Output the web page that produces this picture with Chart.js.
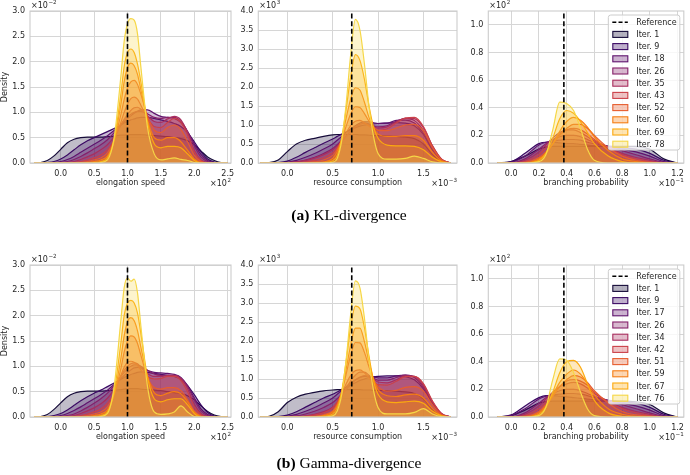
<!DOCTYPE html>
<html><head><meta charset="utf-8">
<script src="https://cdn.jsdelivr.net/npm/chart.js@4.4.1/dist/chart.umd.min.js"></script>
<style>
html,body{margin:0;padding:0;background:#fff}
#wrap{position:relative;width:690px;height:475px;overflow:hidden;background:#fff}
canvas{position:absolute;left:0;top:0}
.cap{position:absolute;left:0;width:698px;text-align:center;font-family:"Liberation Serif",serif;font-size:15.5px;line-height:18px;color:#000}
</style></head><body>
<div id="wrap">
<canvas id="c0" width="690" height="475"></canvas>
<canvas id="c1" width="690" height="475"></canvas>
<canvas id="c2" width="690" height="475"></canvas>
<canvas id="c3" width="690" height="475"></canvas>
<canvas id="c4" width="690" height="475"></canvas>
<canvas id="c5" width="690" height="475"></canvas>
<div class="cap" style="top:206px"><b>(a)</b> KL-divergence</div>
<div class="cap" style="top:454px"><b>(b)</b> Gamma-divergence</div>
</div>
<script>
// ---------- data ----------
const itersKL = [1, 9, 18, 26, 35, 43, 52, 60, 69, 78];
const itersGamma = [1, 9, 17, 26, 34, 42, 51, 59, 67, 76];
const refElong = 1.0, refResource = 0.71, refBranch = 0.38;

const xElong = [-0.4,-0.3,-0.2,-0.1,0.0,0.1,0.2,0.3,0.4,0.5,0.6,0.7,0.8,0.9,0.95,1.0,1.05,1.1,1.15,1.2,1.3,1.4,1.5,1.6,1.7,1.8,1.9,2.0,2.1,2.2,2.3,2.4,2.5];
const xResource = [-0.3,-0.2,-0.1,0.0,0.1,0.2,0.3,0.4,0.5,0.55,0.6,0.65,0.7,0.75,0.8,0.85,0.9,0.95,1.0,1.1,1.2,1.3,1.4,1.5,1.6,1.7,1.8];
const xBranch = [-0.1,0.0,0.1,0.2,0.25,0.3,0.35,0.4,0.45,0.5,0.55,0.6,0.7,0.8,0.9,1.0,1.1,1.2];

// KL-divergence, elongation speed (x10^-2)
const klElong = [
 [0,0.01,0.05,0.14,0.27,0.40,0.47,0.50,0.51,0.51,0.51,0.52,0.53,0.55,0.55,0.56,0.56,0.56,0.56,0.56,0.55,0.54,0.53,0.52,0.50,0.48,0.44,0.36,0.24,0.12,0.05,0.01,0],
 [0,0,0.01,0.03,0.08,0.16,0.26,0.36,0.44,0.50,0.56,0.62,0.68,0.75,0.79,0.82,0.85,0.87,0.89,0.90,0.90,0.88,0.85,0.82,0.78,0.72,0.6,0.42,0.22,0.08,0.02,0,0],
 [0,0,0,0.01,0.03,0.07,0.13,0.21,0.29,0.37,0.45,0.54,0.64,0.75,0.81,0.87,0.93,0.98,1.02,1.05,1.05,0.98,0.92,0.9,0.88,0.8,0.62,0.38,0.17,0.05,0.01,0,0],
 [0,0,0,0,0.01,0.03,0.07,0.13,0.2,0.28,0.36,0.46,0.6,0.76,0.84,0.91,0.96,1.0,1.02,1.02,0.97,0.9,0.88,0.9,0.9,0.82,0.62,0.34,0.12,0.03,0,0,0],
 [0,0,0,0,0,0.01,0.03,0.07,0.12,0.18,0.26,0.36,0.52,0.74,0.86,0.96,1.04,1.09,1.1,1.06,0.93,0.82,0.8,0.87,0.92,0.85,0.6,0.25,0.06,0.01,0,0,0],
 [0,0,0,0,0,0,0.01,0.03,0.06,0.1,0.16,0.26,0.46,0.8,1.0,1.16,1.27,1.3,1.26,1.14,0.88,0.72,0.7,0.8,0.88,0.8,0.55,0.22,0.05,0,0,0,0],
 [0,0,0,0,0,0,0,0.01,0.03,0.06,0.1,0.2,0.45,0.95,1.25,1.48,1.6,1.63,1.55,1.36,0.92,0.65,0.6,0.7,0.75,0.66,0.42,0.15,0.03,0,0,0,0],
 [0,0,0,0,0,0,0,0,0.01,0.03,0.06,0.14,0.45,1.15,1.6,1.88,1.97,1.92,1.75,1.45,0.85,0.5,0.45,0.5,0.5,0.42,0.25,0.08,0.01,0,0,0,0],
 [0,0,0,0,0,0,0,0,0,0.01,0.03,0.1,0.45,1.35,1.9,2.18,2.25,2.18,1.95,1.6,0.8,0.38,0.3,0.33,0.33,0.3,0.18,0.05,0,0,0,0,0],
 [0,0,0,0,0,0,0,0,0,0,0.01,0.06,0.5,1.7,2.4,2.75,2.85,2.82,2.55,1.9,0.7,0.18,0.06,0.08,0.1,0.07,0.05,0.01,0,0,0,0,0]
];
// KL-divergence, resource consumption (x10^3)
const klResource = [
 [0,0.01,0.08,0.3,0.5,0.6,0.65,0.7,0.74,0.75,0.75,0.75,0.75,0.75,0.74,0.74,0.73,0.72,0.72,0.71,0.7,0.68,0.64,0.5,0.22,0.05,0],
 [0,0,0.01,0.05,0.15,0.28,0.4,0.52,0.63,0.7,0.76,0.82,0.88,0.93,0.97,1.0,1.02,1.03,1.04,1.05,1.06,1.05,0.98,0.75,0.35,0.08,0],
 [0,0,0,0.02,0.07,0.15,0.25,0.37,0.5,0.6,0.7,0.8,0.9,0.98,1.05,1.08,1.08,1.06,1.04,1.05,1.12,1.13,1.05,0.78,0.35,0.07,0],
 [0,0,0,0.01,0.03,0.08,0.15,0.25,0.38,0.48,0.6,0.72,0.85,0.95,1.02,1.05,1.03,0.98,0.95,0.98,1.1,1.17,1.12,0.85,0.38,0.08,0],
 [0,0,0,0.01,0.03,0.07,0.13,0.22,0.35,0.45,0.57,0.7,0.83,0.95,1.02,1.04,1.0,0.95,0.92,0.95,1.08,1.18,1.17,0.93,0.45,0.1,0],
 [0,0,0,0,0.01,0.03,0.07,0.14,0.27,0.4,0.58,0.8,0.99,1.1,1.12,1.06,0.97,0.9,0.86,0.9,1.05,1.18,1.2,0.96,0.45,0.1,0],
 [0,0,0,0,0,0.01,0.03,0.08,0.2,0.36,0.62,0.98,1.3,1.48,1.46,1.3,1.1,0.95,0.86,0.85,0.92,1.0,1.02,0.85,0.4,0.08,0],
 [0,0,0,0,0,0,0.01,0.03,0.12,0.3,0.65,1.2,1.7,1.98,1.92,1.6,1.2,0.9,0.76,0.7,0.7,0.72,0.72,0.6,0.28,0.05,0],
 [0,0,0,0,0,0,0,0.01,0.06,0.2,0.65,1.45,2.3,2.85,2.7,2.2,1.5,0.95,0.65,0.47,0.45,0.45,0.44,0.35,0.15,0.03,0],
 [0,0,0,0,0,0,0,0,0.02,0.12,0.6,1.6,2.9,3.78,3.5,2.6,1.5,0.7,0.25,0.1,0.1,0.12,0.18,0.12,0.03,0,0]
];
// KL-divergence, branching probability (x10^2)
const klBranch = [
 [0,0.01,0.05,0.1,0.115,0.12,0.12,0.12,0.12,0.12,0.12,0.12,0.12,0.12,0.12,0.1,0.03,0],
 [0,0.01,0.07,0.14,0.15,0.15,0.145,0.14,0.14,0.135,0.13,0.125,0.12,0.11,0.1,0.07,0.02,0],
 [0,0.005,0.05,0.13,0.15,0.16,0.165,0.17,0.17,0.165,0.15,0.14,0.12,0.1,0.08,0.05,0.01,0],
 [0,0,0.03,0.1,0.14,0.17,0.19,0.2,0.2,0.19,0.17,0.15,0.12,0.09,0.06,0.03,0.005,0],
 [0,0,0.02,0.08,0.13,0.18,0.22,0.24,0.24,0.22,0.19,0.16,0.11,0.07,0.04,0.02,0,0],
 [0,0,0.01,0.06,0.11,0.16,0.21,0.24,0.25,0.24,0.21,0.17,0.11,0.06,0.03,0.01,0,0],
 [0,0,0.005,0.04,0.08,0.14,0.2,0.25,0.28,0.28,0.25,0.2,0.11,0.05,0.02,0.005,0,0],
 [0,0,0,0.03,0.07,0.14,0.23,0.3,0.33,0.31,0.26,0.19,0.09,0.03,0.01,0,0,0],
 [0,0,0,0.02,0.07,0.18,0.32,0.38,0.36,0.3,0.22,0.14,0.05,0.01,0,0,0,0],
 [0,0,0,0.01,0.06,0.24,0.44,0.43,0.38,0.25,0.1,0.02,0,0,0,0,0,0]
];
// Gamma-divergence, elongation speed
const gaElong = [
 [0,0.01,0.05,0.15,0.28,0.40,0.47,0.50,0.51,0.51,0.51,0.52,0.53,0.54,0.55,0.56,0.56,0.56,0.56,0.55,0.54,0.53,0.52,0.5,0.48,0.46,0.42,0.34,0.22,0.11,0.04,0.01,0],
 [0,0,0.01,0.03,0.07,0.14,0.23,0.32,0.4,0.47,0.53,0.6,0.67,0.74,0.78,0.81,0.84,0.86,0.88,0.89,0.88,0.86,0.84,0.82,0.8,0.74,0.62,0.44,0.24,0.09,0.02,0,0],
 [0,0,0,0.01,0.03,0.07,0.13,0.2,0.28,0.36,0.44,0.53,0.64,0.76,0.82,0.88,0.93,0.97,0.98,0.97,0.92,0.88,0.87,0.86,0.84,0.78,0.62,0.38,0.16,0.05,0.01,0,0],
 [0,0,0,0,0.01,0.03,0.06,0.12,0.19,0.27,0.36,0.47,0.62,0.8,0.88,0.95,1.0,1.03,1.03,1.0,0.92,0.85,0.82,0.82,0.82,0.76,0.6,0.34,0.12,0.03,0,0,0],
 [0,0,0,0,0,0.01,0.03,0.07,0.12,0.18,0.26,0.37,0.55,0.8,0.92,1.0,1.05,1.07,1.05,0.98,0.86,0.8,0.8,0.82,0.82,0.76,0.56,0.26,0.07,0.01,0,0,0],
 [0,0,0,0,0,0,0.01,0.03,0.06,0.1,0.16,0.27,0.48,0.82,0.98,1.08,1.1,1.08,1.02,0.93,0.8,0.75,0.76,0.8,0.8,0.72,0.5,0.2,0.05,0,0,0,0],
 [0,0,0,0,0,0,0,0.01,0.03,0.06,0.1,0.2,0.45,0.95,1.28,1.5,1.6,1.58,1.45,1.22,0.78,0.58,0.55,0.58,0.58,0.52,0.34,0.12,0.02,0,0,0,0],
 [0,0,0,0,0,0,0,0,0.01,0.03,0.06,0.14,0.45,1.15,1.6,1.88,1.96,1.9,1.7,1.38,0.8,0.48,0.42,0.47,0.5,0.46,0.3,0.1,0.01,0,0,0,0],
 [0,0,0,0,0,0,0,0,0,0.01,0.03,0.1,0.5,1.45,2.0,2.25,2.3,2.25,2.05,1.65,0.78,0.36,0.3,0.34,0.36,0.36,0.24,0.07,0,0,0,0,0],
 [0,0,0,0,0,0,0,0,0,0,0.01,0.07,0.6,1.9,2.55,2.74,2.68,2.72,2.45,1.8,0.6,0.1,0.05,0.06,0.1,0.22,0.1,0.01,0,0,0,0,0]
];
// Gamma-divergence, resource consumption
const gaResource = [
 [0,0.02,0.14,0.38,0.52,0.6,0.65,0.69,0.71,0.72,0.72,0.72,0.72,0.72,0.72,0.71,0.71,0.7,0.7,0.69,0.68,0.66,0.62,0.48,0.2,0.04,0],
 [0,0,0.01,0.05,0.14,0.26,0.38,0.5,0.6,0.66,0.72,0.78,0.84,0.9,0.96,1.0,1.04,1.06,1.07,1.08,1.08,1.06,0.98,0.74,0.34,0.07,0],
 [0,0,0,0.02,0.07,0.15,0.25,0.37,0.5,0.6,0.7,0.8,0.9,0.98,1.04,1.07,1.07,1.05,1.03,1.03,1.08,1.1,1.04,0.78,0.35,0.07,0],
 [0,0,0,0.01,0.03,0.08,0.15,0.25,0.38,0.48,0.6,0.73,0.86,0.97,1.05,1.09,1.07,1.02,0.97,0.97,1.04,1.1,1.06,0.82,0.38,0.08,0],
 [0,0,0,0,0.01,0.03,0.07,0.14,0.26,0.38,0.55,0.76,0.96,1.1,1.18,1.18,1.1,1.0,0.92,0.9,0.98,1.08,1.07,0.86,0.4,0.09,0],
 [0,0,0,0,0.01,0.02,0.05,0.11,0.24,0.4,0.62,0.88,1.1,1.22,1.24,1.16,1.03,0.92,0.85,0.84,0.94,1.06,1.07,0.88,0.42,0.09,0],
 [0,0,0,0,0,0.01,0.02,0.06,0.16,0.34,0.66,1.15,1.65,1.96,1.95,1.7,1.32,0.98,0.8,0.68,0.7,0.78,0.8,0.68,0.32,0.06,0],
 [0,0,0,0,0,0,0.01,0.04,0.13,0.3,0.66,1.28,1.92,2.34,2.34,1.98,1.45,1.0,0.72,0.56,0.54,0.58,0.6,0.5,0.22,0.04,0],
 [0,0,0,0,0,0,0,0.02,0.08,0.24,0.68,1.5,2.4,2.92,2.85,2.35,1.6,0.95,0.6,0.4,0.38,0.4,0.42,0.36,0.15,0.03,0],
 [0,0,0,0,0,0,0,0,0.03,0.16,0.6,1.55,2.75,3.58,3.4,2.6,1.5,0.7,0.25,0.08,0.08,0.08,0.12,0.22,0.08,0.01,0]
];
// Gamma-divergence, branching probability
const gaBranch = [
 [0,0.01,0.05,0.1,0.11,0.115,0.115,0.115,0.115,0.115,0.115,0.115,0.115,0.115,0.11,0.09,0.03,0],
 [0,0.015,0.08,0.14,0.155,0.155,0.15,0.145,0.14,0.135,0.13,0.125,0.12,0.11,0.1,0.07,0.02,0],
 [0,0.01,0.06,0.13,0.15,0.16,0.165,0.17,0.17,0.165,0.155,0.14,0.12,0.1,0.08,0.05,0.01,0],
 [0,0,0.03,0.1,0.14,0.17,0.19,0.2,0.2,0.19,0.17,0.15,0.12,0.09,0.06,0.03,0.005,0],
 [0,0,0.02,0.08,0.13,0.18,0.22,0.24,0.25,0.24,0.21,0.17,0.11,0.07,0.04,0.02,0,0],
 [0,0,0.01,0.06,0.11,0.17,0.22,0.26,0.27,0.26,0.23,0.18,0.11,0.06,0.03,0.01,0,0],
 [0,0,0.005,0.04,0.09,0.15,0.22,0.27,0.3,0.29,0.25,0.19,0.1,0.04,0.015,0.005,0,0],
 [0,0,0,0.03,0.08,0.16,0.25,0.31,0.34,0.31,0.24,0.16,0.06,0.02,0.005,0,0,0],
 [0,0,0,0.02,0.07,0.18,0.32,0.4,0.41,0.36,0.24,0.12,0.03,0.005,0,0,0,0],
 [0,0,0,0.01,0.07,0.27,0.42,0.41,0.32,0.18,0.06,0.01,0,0,0,0,0,0]
];

// ---------- style ----------
const COLORS = ['#160b39','#3b0964','#5f136e','#85216b','#a92e5e','#cb4149','#e65d2f','#f67e14','#fcaa0f','#f6d746'];
const FILL_ALPHA = 0.27;
const GRID = '#d6d6d6', FRAME = '#cccccc', TEXT = '#262626';
const FAM = '"DejaVu Sans"';
Chart.defaults.font.family = FAM;
Chart.defaults.font.size = 8;
Chart.defaults.color = TEXT;

function rgba(hex, a) {
  const n = parseInt(hex.slice(1), 16);
  return 'rgba(' + (n >> 16) + ',' + ((n >> 8) & 255) + ',' + (n & 255) + ',' + a + ')';
}

const ROW1 = {T: 11, B: 163}, ROW2 = {T: 265, B: 417};
const panels = [
  {id:'c0', xs:xElong, series:klElong, iters:itersKL, ref:refElong, xmin:-0.46, xmax:2.55, xstep:0.5, ymax:3.0, ystep:0.5, L:30, R:231, row:ROW1, xtitle:'elongation speed', ytitle:'Density', expTop:'\u22122', expBot:'2', legend:false},
  {id:'c1', xs:xResource, series:klResource, iters:itersKL, ref:refResource, xmin:-0.32, xmax:1.87, xstep:0.5, ymax:4.0, ystep:0.5, L:258.3, R:457, row:ROW1, xtitle:'resource consumption', ytitle:'', expTop:'3', expBot:'\u22123', legend:false},
  {id:'c2', xs:xBranch, series:klBranch, iters:itersKL, ref:refBranch, xmin:-0.165, xmax:1.245, xstep:0.2, ymax:1.1, ystep:0.2, L:488.3, R:688, row:ROW1, xtitle:'branching probability', ytitle:'', expTop:'2', expBot:'\u22121', legend:true},
  {id:'c3', xs:xElong, series:gaElong, iters:itersGamma, ref:refElong, xmin:-0.46, xmax:2.55, xstep:0.5, ymax:3.0, ystep:0.5, L:30, R:231, row:ROW2, xtitle:'elongation speed', ytitle:'Density', expTop:'\u22122', expBot:'2', legend:false},
  {id:'c4', xs:xResource, series:gaResource, iters:itersGamma, ref:refResource, xmin:-0.32, xmax:1.87, xstep:0.5, ymax:4.0, ystep:0.5, L:258.3, R:457, row:ROW2, xtitle:'resource consumption', ytitle:'', expTop:'3', expBot:'\u22123', legend:false},
  {id:'c5', xs:xBranch, series:gaBranch, iters:itersGamma, ref:refBranch, xmin:-0.165, xmax:1.245, xstep:0.2, ymax:1.1, ystep:0.2, L:488.3, R:688, row:ROW2, xtitle:'branching probability', ytitle:'', expTop:'2', expBot:'\u22121', legend:true}
];

const YW = 30, XH = 30;

function drawSci(ctx, x, yBase, exp, align) {
  ctx.font = '8px ' + FAM;
  const wb = ctx.measureText('\u00d710').width;
  ctx.font = '5.6px ' + FAM;
  const we = ctx.measureText(exp).width;
  const x0 = align === 'right' ? x - wb - we - 0.5 : x;
  ctx.fillStyle = TEXT;
  ctx.textAlign = 'left';
  ctx.textBaseline = 'alphabetic';
  ctx.font = '8px ' + FAM;
  ctx.fillText('\u00d710', x0, yBase);
  ctx.font = '5.6px ' + FAM;
  ctx.fillText(exp, x0 + wb + 0.5, yBase - 3.6);
}

function drawLegend(chart, p) {
  const ctx = chart.ctx, ca = chart.chartArea;
  const right = ca.right - 4, top = ca.top + 4;
  const w = 71.5, h = 135, left = right - w;
  const rowH = 12.2, y0 = top + 7.2;
  ctx.save();
  ctx.beginPath();
  if (ctx.roundRect) ctx.roundRect(left, top, w, h, 2.5); else ctx.rect(left, top, w, h);
  ctx.fillStyle = 'rgba(255,255,255,0.8)';
  ctx.fill();
  ctx.strokeStyle = FRAME;
  ctx.lineWidth = 1;
  ctx.stroke();
  ctx.font = '8px ' + FAM;
  ctx.textAlign = 'left';
  ctx.textBaseline = 'middle';
  ctx.beginPath();
  ctx.setLineDash([4, 2.2]);
  ctx.strokeStyle = '#000';
  ctx.lineWidth = 1.5;
  ctx.moveTo(left + 4, y0);
  ctx.lineTo(left + 19.5, y0);
  ctx.stroke();
  ctx.setLineDash([]);
  ctx.fillStyle = TEXT;
  ctx.fillText('Reference', left + 28, y0 + 0.5);
  p.iters.forEach((it, i) => {
    const y = y0 + (i + 1) * rowH;
    ctx.fillStyle = rgba(COLORS[i], FILL_ALPHA + 0.05);
    ctx.fillRect(left + 4.5, y - 3, 15, 6);
    ctx.strokeStyle = COLORS[i];
    ctx.lineWidth = 1.1;
    ctx.strokeRect(left + 4.5, y - 3, 15, 6);
    ctx.fillStyle = TEXT;
    ctx.fillText('Iter. ' + it, left + 28, y + 0.5);
  });
  ctx.restore();
}

function makeChart(p) {
  const datasets = [{
    label: 'Reference',
    data: [{x: p.ref, y: 0}, {x: p.ref, y: p.ymax}],
    borderColor: '#000', borderWidth: 1.6, borderDash: [5, 2.6],
    pointRadius: 0, fill: false, tension: 0, order: 0
  }];
  p.series.forEach((ys, i) => {
    datasets.push({
      label: 'Iter. ' + p.iters[i],
      data: p.xs.map((x, j) => ({x: x, y: ys[j]})),
      borderColor: COLORS[i],
      backgroundColor: rgba(COLORS[i], FILL_ALPHA),
      borderWidth: 1.2,
      pointRadius: 0,
      fill: 'origin',
      cubicInterpolationMode: 'monotone',
      order: 20 - i
    });
  });
  const decor = {
    id: 'decor',
    afterDraw(chart) {
      const ctx = chart.ctx, ca = chart.chartArea;
      ctx.save();
      ctx.strokeStyle = FRAME;
      ctx.lineWidth = 1.1;
      ctx.strokeRect(ca.left, ca.top, ca.right - ca.left, ca.bottom - ca.top);
      ctx.restore();
      drawSci(ctx, ca.left + 1, ca.top - 3, p.expTop, 'left');
      drawSci(ctx, ca.right, ca.bottom + 23, p.expBot, 'right');
      if (p.legend) drawLegend(chart, p);
    }
  };
  new Chart(document.getElementById(p.id), {
    type: 'line',
    data: {datasets: datasets},
    plugins: [decor],
    options: {
      responsive: false, animation: false, devicePixelRatio: 1, events: [],
      layout: {padding: {left: p.L - YW, right: 690 - p.R, top: p.row.T, bottom: 475 - p.row.B - XH}},
      plugins: {legend: {display: false}, tooltip: {enabled: false}},
      scales: {
        x: {
          type: 'linear', min: p.xmin, max: p.xmax,
          afterFit: s => { s.height = XH; },
          ticks: {stepSize: p.xstep, includeBounds: false, padding: 6, maxRotation: 0, autoSkip: false,
                  callback: v => (Math.abs(v) < 1e-9 ? 0 : v).toFixed(1)},
          grid: {color: GRID, lineWidth: 1, drawTicks: false},
          border: {display: false},
          title: {display: true, text: p.xtitle, padding: {top: 0, bottom: 5}}
        },
        y: {
          type: 'linear', min: 0, max: p.ymax,
          afterFit: s => { s.width = YW; },
          ticks: {stepSize: p.ystep, includeBounds: false, padding: 5,
                  callback: v => v.toFixed(1)},
          grid: {color: GRID, lineWidth: 1, drawTicks: false},
          border: {display: false},
          title: {display: !!p.ytitle, text: p.ytitle, padding: {top: 0, bottom: 0}}
        }
      }
    }
  });
}
panels.forEach(makeChart);
</script>
</body></html>
